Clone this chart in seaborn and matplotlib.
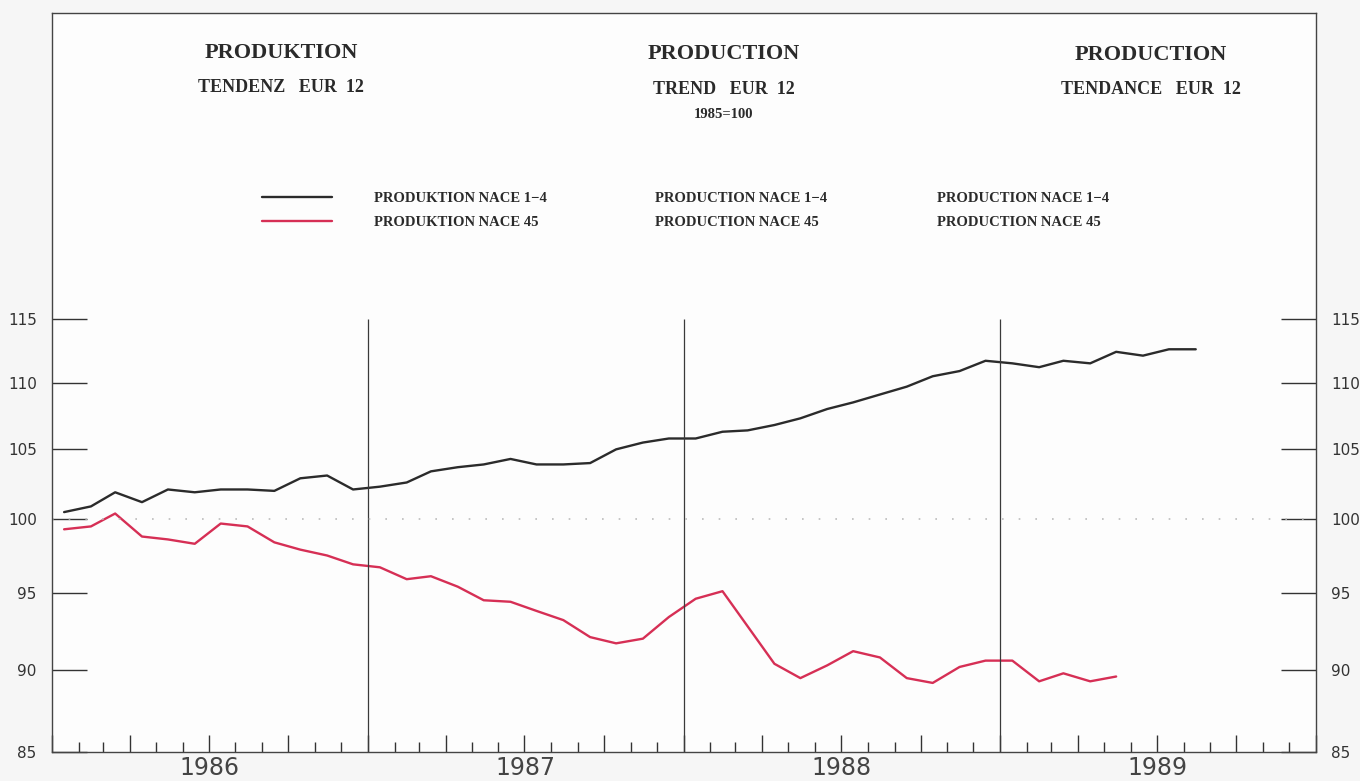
import pandas as pd
import numpy as np
import matplotlib
matplotlib.use("Agg")
import matplotlib.pyplot as plt
import matplotlib.dates as mdates
from matplotlib.ticker import FixedLocator, NullLocator
import seaborn as sns

# -----------------------------
# Data (monthly trend, 1985 = 100)
# -----------------------------
nace_1_4 = [100.5, 100.9, 101.9, 101.2, 102.1, 101.9, 102.1, 102.1, 102.0, 102.9, 103.1, 102.1,
            102.3, 102.6, 103.4, 103.7, 103.9, 104.3, 103.9, 103.9, 104.0, 105.0, 105.5, 105.8,
            105.8, 106.3, 106.4, 106.8, 107.3, 108.0, 108.5, 109.1, 109.7, 110.5, 110.9, 111.7,
            111.5, 111.2, 111.7, 111.5, 112.4, 112.1, 112.6, 112.6]
nace_45 = [99.3, 99.5, 100.4, 98.8, 98.6, 98.3, 99.7, 99.5, 98.4, 97.9, 97.5, 96.9,
           96.7, 95.9, 96.1, 95.4, 94.5, 94.4, 93.8, 93.2, 92.1, 91.7, 92.0, 93.4,
           94.6, 95.1, 92.8, 90.4, 89.5, 90.3, 91.2, 90.8, 89.5, 89.2, 90.2, 90.6,
           90.6, 89.3, 89.8, 89.3, 89.6]
years = [1986, 1987, 1988, 1989]
y_ticks = [85, 90, 95, 100, 105, 110, 115]

months = pd.date_range("1986-01-01", periods=48, freq="MS") + pd.Timedelta(days=14)
df_a = pd.DataFrame({"Month": months[:len(nace_1_4)], "Value": nace_1_4})
df_b = pd.DataFrame({"Month": months[:len(nace_45)], "Value": nace_45})

# -----------------------------
# Figure
# -----------------------------
sns.set_style("white")
plt.rcParams["font.family"] = ["DejaVu Sans"]

W, H = 1360, 781
fig = plt.figure(figsize=(13.6, 7.81), dpi=100, facecolor="#f6f6f6")
ax = fig.add_axes([52 / W, 1 - 752 / H, (1316 - 52) / W, (752 - 13) / H])
ax.set_facecolor("#fdfdfd")

black = "#2b2b2b"
red = "#d62f55"

sns.lineplot(data=df_a, x="Month", y="Value", color=black, linewidth=1.7, ax=ax,
             label="PRODUKTION NACE 1\u22124")
sns.lineplot(data=df_b, x="Month", y="Value", color=red, linewidth=1.7, ax=ax,
             label="PRODUKTION NACE 45")

ax.set_yscale("log")
ax.set_ylim(85, 142.4)
ax.set_xlim(pd.Timestamp("1986-01-01"), pd.Timestamp("1990-01-01"))

# year separators and 100 reference
for yr in years[1:]:
    ax.vlines(pd.Timestamp(f"{yr}-01-01"), 85, 115, color="#3a3a3a", linewidth=0.9)
ax.axhline(100, color="#bbbbbb", linewidth=1.2, linestyle=(0, (1, 9)))

# y axis: ticks inside on both sides
ax.yaxis.set_major_locator(FixedLocator(y_ticks))
ax.yaxis.set_minor_locator(NullLocator())
ax.set_yticklabels([str(v) for v in y_ticks])
ax.tick_params(axis="y", which="major", direction="in", length=25, width=1.0,
               color="#333333", left=True, right=True, labelleft=True, labelright=True,
               labelsize=11, labelcolor="#333333", pad=11)

# x axis: monthly ticks, quarterly slightly longer
ax.xaxis.set_major_locator(mdates.MonthLocator(bymonth=[1, 4, 7, 10]))
ax.xaxis.set_minor_locator(mdates.MonthLocator())
ax.tick_params(axis="x", which="major", direction="in", length=12, width=1.0,
               color="#333333", bottom=True, labelbottom=False)
ax.tick_params(axis="x", which="minor", direction="in", length=7, width=1.0,
               color="#333333", bottom=True)
ax.set_xlabel("")
ax.set_ylabel("")
for yr in years:
    ax.text(pd.Timestamp(f"{yr}-07-02"), -0.006, str(yr), transform=ax.get_xaxis_transform(),
            ha="center", va="top", fontsize=17, color="#444444")

for s in ax.spines.values():
    s.set_color("#444444")
    s.set_linewidth(1.0)

# -----------------------------
# Titles
# -----------------------------
serif = ["Liberation Serif", "DejaVu Serif"]


def ftext(x, y, s, size, **kw):
    fig.text(x / W, 1 - y / H, s, ha="center", va="center", fontsize=size,
             fontweight="bold", family=serif, color="#2a2a2a", **kw)


ftext(281, 53, "PRODUKTION", 16)
ftext(281, 88, "TENDENZ   EUR  12", 13)
ftext(724, 54, "PRODUCTION", 16)
ftext(724, 89, "TREND   EUR  12", 13)
ftext(724, 115, "1985=100", 10.5)
ftext(1151, 55, "PRODUCTION", 16)
ftext(1151, 89, "TENDANCE   EUR  12", 13)

# -----------------------------
# Legend (three languages)
# -----------------------------
leg = ax.legend(loc="upper left", bbox_to_anchor=(262 / W, 1 - 192 / H),
                bbox_transform=fig.transFigure, frameon=False, borderpad=0,
                borderaxespad=0, handlelength=4.8, handletextpad=2.85, labelspacing=0.72,
                prop={"family": serif, "weight": "bold", "size": 10.5})
for t in leg.get_texts():
    t.set_color("#2a2a2a")
for col_x, word in [(655, "PRODUCTION"), (937, "PRODUCTION")]:
    fig.text(col_x / W, 1 - 199 / H, f"{word} NACE 1\u22124", ha="left", va="center",
             fontsize=10.5, fontweight="bold", family=serif, color="#2a2a2a")
    fig.text(col_x / W, 1 - 223 / H, f"{word} NACE 45", ha="left", va="center",
             fontsize=10.5, fontweight="bold", family=serif, color="#2a2a2a")

fig.savefig("out.png", dpi=100, facecolor=fig.get_facecolor())
